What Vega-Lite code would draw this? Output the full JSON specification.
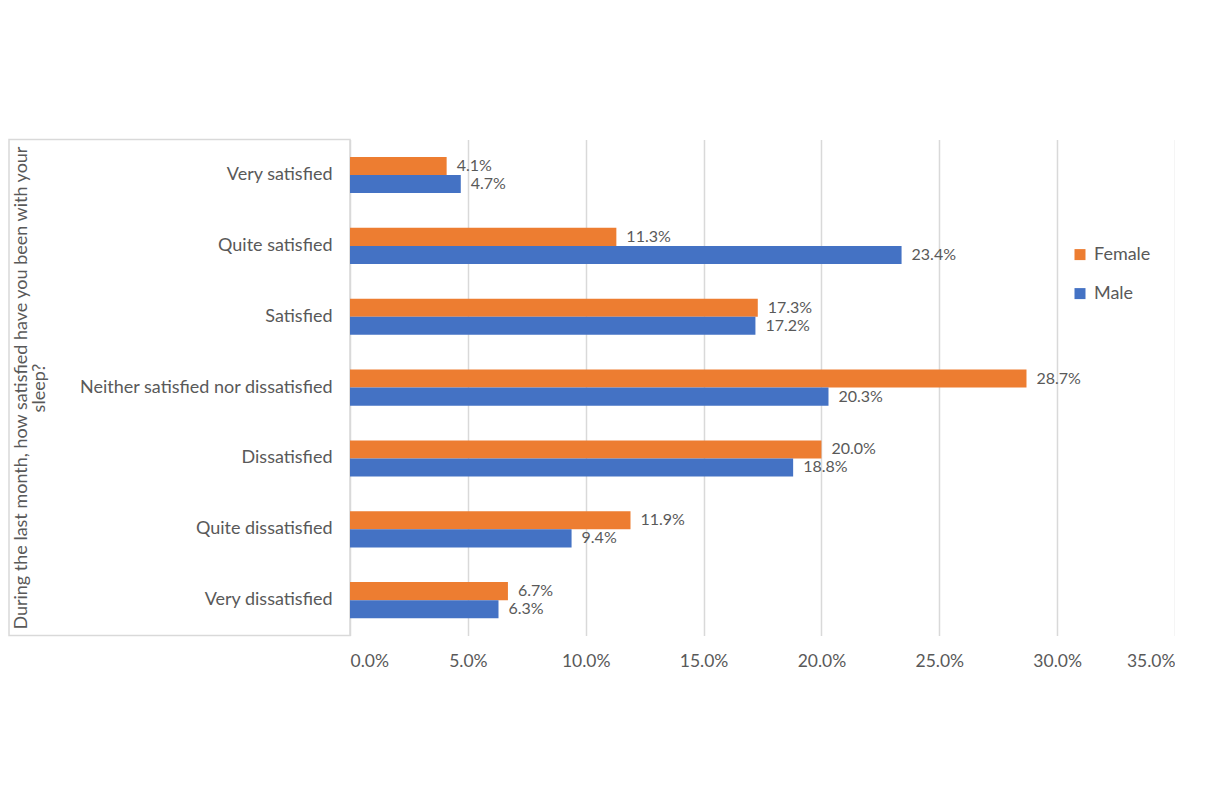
{
  "$schema": "https://vega.github.io/schema/vega-lite/v6.json",
  "padding": {"left": 8, "top": 138.6, "right": 0, "bottom": 0},
  "background": "white",
  "config": {"font": "Lato", "view": {"stroke": null}},
  "data": {"values": [
    {"category": "Very satisfied", "gender": "Female", "value": 0.041},
    {"category": "Very satisfied", "gender": "Male", "value": 0.047},
    {"category": "Quite satisfied", "gender": "Female", "value": 0.113},
    {"category": "Quite satisfied", "gender": "Male", "value": 0.234},
    {"category": "Satisfied", "gender": "Female", "value": 0.173},
    {"category": "Satisfied", "gender": "Male", "value": 0.172},
    {"category": "Neither satisfied nor dissatisfied", "gender": "Female", "value": 0.287},
    {"category": "Neither satisfied nor dissatisfied", "gender": "Male", "value": 0.203},
    {"category": "Dissatisfied", "gender": "Female", "value": 0.200},
    {"category": "Dissatisfied", "gender": "Male", "value": 0.188},
    {"category": "Quite dissatisfied", "gender": "Female", "value": 0.119},
    {"category": "Quite dissatisfied", "gender": "Male", "value": 0.094},
    {"category": "Very dissatisfied", "gender": "Female", "value": 0.067},
    {"category": "Very dissatisfied", "gender": "Male", "value": 0.063}
  ]},
  "bounds": "flush",
  "spacing": 0,
  "hconcat": [
    {
      "width": 341,
      "height": 496,
      "view": {"stroke": "#D9D9D9", "strokeWidth": 1.5},
      "mark": {"type": "tick", "opacity": 0},
      "encoding": {
        "y": {
          "field": "category", "type": "nominal",
          "sort": ["Very satisfied", "Quite satisfied", "Satisfied", "Neither satisfied nor dissatisfied", "Dissatisfied", "Quite dissatisfied", "Very dissatisfied"],
          "scale": {"paddingInner": 0.49, "paddingOuter": 0.245},
          "axis": {
            "orient": "right", "domain": false, "ticks": false,
            "labelPadding": -18, "labelAlign": "right", "labelFontSize": 18, "labelColor": "#595959", "labelLimit": 400,
            "title": ["During the last month, how satisfied have you been with your", "sleep?"],
            "titleAngle": 270, "titleX": -329, "titleY": 248, "titleAlign": "center", "titleBaseline": "middle",
            "titleFontSize": 18, "titleFontWeight": "normal", "titleColor": "#595959", "titleLineHeight": 19
          }
        }
      }
    },
    {
      "width": 825,
      "height": 496,
      "encoding": {
        "y": {
          "field": "category", "type": "nominal",
          "sort": ["Very satisfied", "Quite satisfied", "Satisfied", "Neither satisfied nor dissatisfied", "Dissatisfied", "Quite dissatisfied", "Very dissatisfied"],
          "scale": {"paddingInner": 0.49, "paddingOuter": 0.245},
          "axis": null
        },
        "yOffset": {"field": "gender", "type": "nominal", "sort": ["Female", "Male"], "scale": {"paddingInner": 0, "paddingOuter": 0}},
        "x": {
          "field": "value", "type": "quantitative",
          "scale": {"domain": [0, 0.35]},
          "axis": {
            "values": [0, 0.05, 0.1, 0.15, 0.2, 0.25, 0.3, 0.35],
            "format": ".1%", "title": null, "domain": false, "ticks": false,
            "grid": true, "gridColor": "#D9D9D9", "gridWidth": 1.5,
            "labelPadding": 17, "labelFontSize": 17.5, "labelColor": "#595959"
          }
        }
      },
      "layer": [
        {
          "mark": {"type": "bar"},
          "encoding": {
            "color": {
              "field": "gender", "type": "nominal",
              "scale": {"domain": ["Female", "Male"], "range": ["#ED7D31", "#4472C4"]},
              "legend": {
                "orient": "none", "legendX": 1062, "legendY": 106, "title": null,
                "symbolType": "square", "symbolSize": 121, "symbolStrokeWidth": 0,
                "labelFontSize": 18, "labelColor": "#595959", "rowPadding": 21, "labelOffset": 5, "padding": 0
              }
            }
          }
        },
        {
          "mark": {"type": "text", "align": "left", "dx": 10, "baseline": "middle", "fontSize": 16, "color": "#595959"},
          "encoding": {"text": {"field": "value", "type": "quantitative", "format": ".1%"}}
        }
      ]
    }
  ]
}
